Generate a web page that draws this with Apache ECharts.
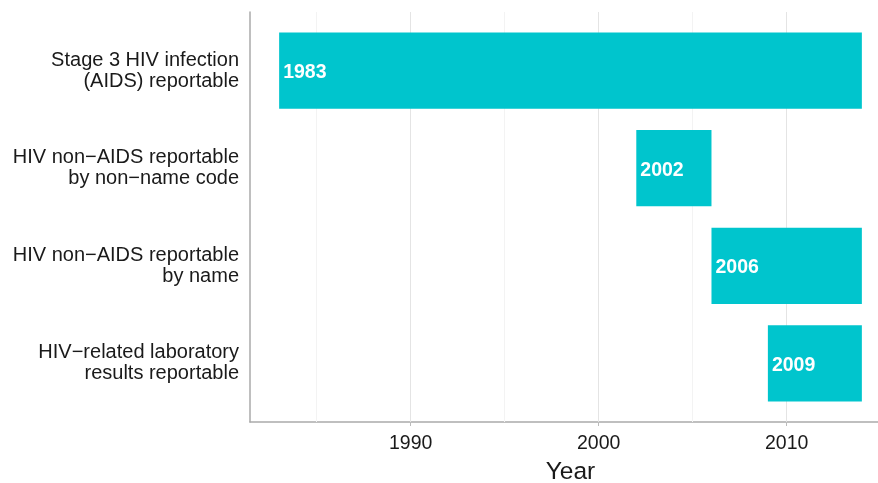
<!DOCTYPE html>
<html>
<head>
<meta charset="utf-8">
<script src="https://cdn.jsdelivr.net/npm/echarts@6/dist/echarts.min.js"></script>
<style>html,body{margin:0;padding:0;background:#fff}#c{width:878px;height:483px}</style>
</head>
<body>
<div id="c"></div>
<script>
const categories = [
  'Stage 3 HIV infection\n(AIDS) reportable',
  'HIV non\u2212AIDS reportable\nby non\u2212name code',
  'HIV non\u2212AIDS reportable\nby name',
  'HIV\u2212related laboratory\nresults reportable'
];
const startYears = [1983, 2002, 2006, 2009];
const endYears = [2014, 2006, 2014, 2014];
const barLabels = ['1983', '2002', '2006', '2009'];
const xTicks = [1990, 2000, 2010];
const minorTicks = [1985, 1995, 2005];

const FONT = '"Liberation Sans", Arial, sans-serif';
const data = categories.map((c, i) => [startYears[i], endYears[i], i + 1, barLabels[i]]);

const chart = echarts.init(document.getElementById('c'), null, {renderer: 'canvas'});
chart.setOption({
  animation: false,
  backgroundColor: '#ffffff',
  grid: {left: 250, top: 12, height: 410, width: 641, containLabel: false, outerBoundsMode: 'none'},
  xAxis: {
    type: 'value',
    min: 1981.45,
    max: 2015.55,
    name: 'Year',
    nameLocation: 'middle',
    nameGap: 38,
    nameTextStyle: {fontFamily: FONT, fontSize: 24.5, color: '#1a1a1a'},
    axisLine: {show: true, lineStyle: {color: '#aaaaaa', width: 1.5}},
    axisTick: {show: true, customValues: xTicks, length: 4, lineStyle: {color: '#bbbbbb'}},
    axisLabel: {customValues: xTicks, formatter: v => String(v), fontFamily: FONT, fontSize: 19.5, color: '#1a1a1a', margin: 12},
    splitLine: {show: false}
  },
  yAxis: {
    type: 'value',
    min: 0.4,
    max: 4.6,
    inverse: true,
    axisLine: {show: true, lineStyle: {color: '#aaaaaa', width: 1.5}},
    axisTick: {show: false},
    splitLine: {show: false},
    axisLabel: {
      customValues: [1, 2, 3, 4],
      formatter: v => categories[Math.round(v) - 1] || '',
      fontFamily: FONT, fontSize: 20, color: '#1a1a1a', align: 'right',
      lineHeight: 21, margin: 11, padding: [3, 0, 0, 0]
    }
  },
  series: [{
    type: 'custom',
    z: 3,
    data: data,
    encode: {x: [0, 1], y: 2},
    renderItem: function (params, api) {
      const s = api.coord([api.value(0), api.value(2)]);
      const e = api.coord([api.value(1), api.value(2)]);
      const h = api.size([0, 0.78])[1];
      return {
        type: 'rect',
        shape: {x: s[0], y: s[1] - h / 2, width: e[0] - s[0], height: h},
        style: {fill: '#00C5CD'},
        textContent: {
          style: {text: barLabels[params.dataIndex], fill: '#ffffff', font: 'bold 19.5px ' + FONT}
        },
        textConfig: {position: 'insideLeft', distance: 4, offset: [0, 2]}
      };
    },
    markLine: {
      silent: true,
      z: 1,
      symbol: ['none', 'none'],
      label: {show: false},
      lineStyle: {type: 'solid', width: 1},
      data: xTicks.map(v => ({xAxis: v, lineStyle: {color: '#e4e4e4'}}))
        .concat(minorTicks.map(v => ({xAxis: v, lineStyle: {color: '#f3f3f3'}})))
    }
  }]
});
</script>
</body>
</html>
